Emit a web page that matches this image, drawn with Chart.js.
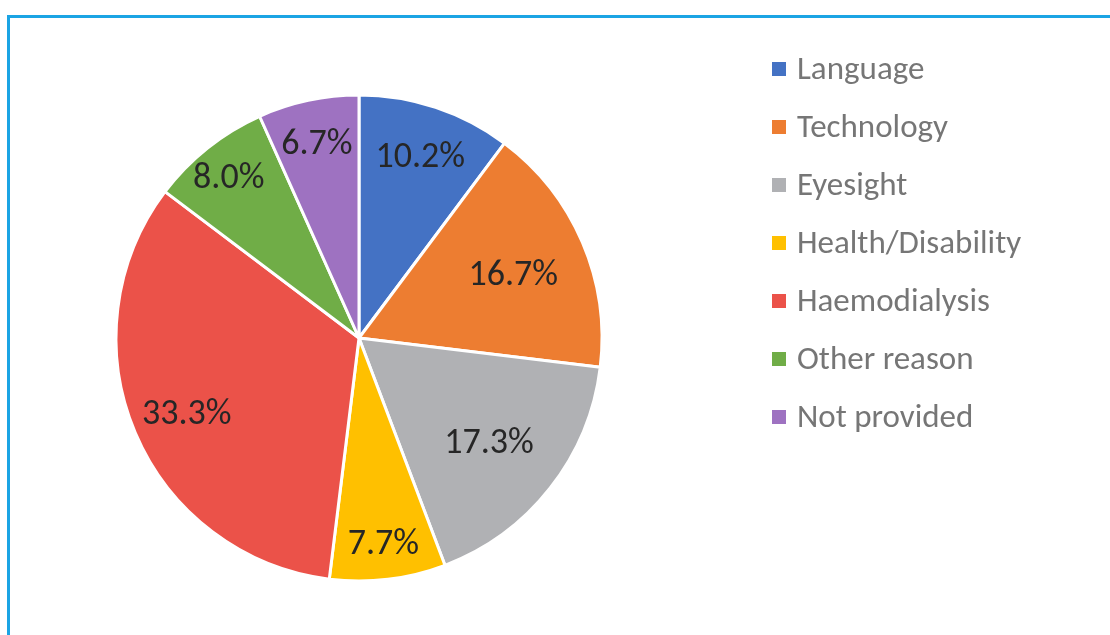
<!DOCTYPE html>
<html>
<head>
<meta charset="utf-8">
<script src="https://cdn.jsdelivr.net/npm/chart.js@4.4.0/dist/chart.umd.min.js"></script>
<style>
  html, body { margin: 0; padding: 0; background: #fff; overflow: hidden; }
  #frame {
    position: absolute; left: 7px; top: 15px; width: 1200px; height: 700px;
    border-top: 3px solid #1ba4e4; border-left: 3px solid #1ba4e4;
  }
  #wrap { position: absolute; left: 0; top: 0; width: 1110px; height: 635px; }
  #legend { position: absolute; left: 772px; top: 50px; font-family: Carlito, Lato, sans-serif; }
  .item { position: absolute; left: 0; height: 40px; white-space: nowrap; }
  .item .box { position: absolute; left: 0; top: 12px; width: 14px; height: 14px; }
  .item .txt { position: absolute; left: 25px; top: -1px; line-height: 38px; font-size: 33px; color: #767676; }
</style>
</head>
<body>
<div id="frame"></div>
<div id="wrap"><canvas id="myChart" width="1110" height="635"></canvas></div>
<div id="legend"></div>
<script>
// données du graphique
const categories = ['Language', 'Technology', 'Eyesight', 'Health/Disability', 'Haemodialysis', 'Other reason', 'Not provided'];
const percentages = [10.2, 16.7, 17.3, 7.7, 33.3, 8.0, 6.7];
const sliceColors = ['#4472c4', '#ed7d31', '#b0b1b4', '#ffc000', '#eb5249', '#70ad47', '#9e72c1'];
// distance of each value label from the centre, as a share of the radius
const labelRadius = [0.8, 0.69, 0.68, 0.84, 0.77, 0.86, 0.83];

// labels dessinés au milieu de chaque part
const sliceLabels = {
  id: 'sliceLabels',
  afterDatasetsDraw(chart) {
    const ctx = chart.ctx;
    const meta = chart.getDatasetMeta(0);
    ctx.save();
    ctx.font = '36px Carlito, Lato, sans-serif';
    ctx.fillStyle = '#262626';
    ctx.textAlign = 'center';
    ctx.textBaseline = 'middle';
    meta.data.forEach((arc, i) => {
      const p = arc.getProps(['x', 'y', 'startAngle', 'endAngle', 'outerRadius'], true);
      const mid = (p.startAngle + p.endAngle) / 2;
      const r = p.outerRadius * labelRadius[i];
      ctx.fillText(percentages[i].toFixed(1) + '%', p.x + Math.cos(mid) * r, p.y + Math.sin(mid) * r + 4);
    });
    ctx.restore();
  }
};

new Chart(document.getElementById('myChart'), {
  type: 'pie',
  data: {
    labels: categories,
    datasets: [{
      data: percentages,
      backgroundColor: sliceColors,
      borderColor: '#ffffff',
      borderWidth: 3
    }]
  },
  options: {
    responsive: false,
    animation: false,
    radius: 243,
    layout: { padding: { left: 116, right: 508, top: 95, bottom: 54 } },
    plugins: {
      legend: { display: false },
      tooltip: { enabled: false }
    }
  },
  plugins: [sliceLabels]
});

// légende HTML
const legend = document.getElementById('legend');
categories.forEach((name, i) => {
  const item = document.createElement('div');
  item.className = 'item';
  item.style.top = (i * 58) + 'px';
  item.innerHTML = '<span class="box" style="background:' + sliceColors[i] + '"></span><span class="txt">' + name + '</span>';
  legend.appendChild(item);
});
</script>
</body>
</html>
